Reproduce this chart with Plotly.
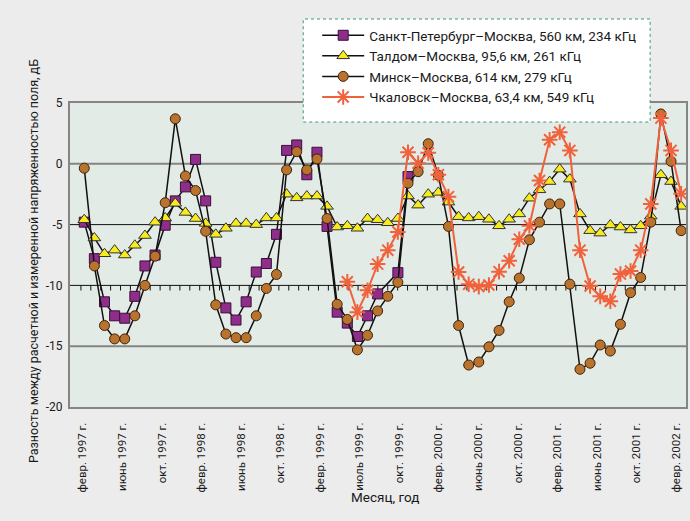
import plotly.graph_objects as go

# ---------------- data ----------------
tick_labels = ["февр. 1997 г.", "июнь 1997 г.", "окт. 1997 г.", "февр. 1998 г.",
               "июнь 1998 г.", "окт. 1998 г.", "февр. 1999 г.", "июль 1999 г.",
               "окт. 1999 г.", "февр. 2000 г.", "июнь 2000 г.", "окт. 2000 г.",
               "февр. 2001 г.", "июнь 2001 г.", "окт. 2001 г.", "февр. 2002 г."]

spb_values = [-4.8, -7.8, -11.35, -12.5, -12.7, -10.9, -8.4, -7.5, -5.05, -3.05,
              -1.9, 0.36, -3.05, -8.1, -11.85, -12.85, -11.35, -8.9, -8.2, -5.8,
              1.1, 1.55, -0.9, 0.95, -5.15, -12.2, -13.1, -14.2, -12.5, -10.7,
              None, -8.95, -1.05]

taldom_values = [-4.6, -6.1, -7.4, -7.1, -7.5, -6.7, -5.9, -4.8, -4.45, -3.25,
                 -4.0, -4.5, -4.9, -5.8, -5.3, -4.9, -4.9, -5.0, -4.45, -4.45,
                 -2.5, -2.8, -2.65, -2.65, -3.5, -5.2, -5.1, -5.3, -4.5, -4.6,
                 -4.85, -4.5, -2.65, -3.4, -2.5, -2.35, -3.15, -4.35, -4.45, -4.35,
                 -4.56, -5.1, -4.56, -4.12, -2.83, -2.14, -1.46, -0.44, -1.26, -4.12,
                 -5.5, -5.7, -5.03, -5.2, -5.44, -5.1, -4.3, -0.9, -1.46, -3.5]

minsk_values = [-0.36, -8.4, -13.3, -14.4, -14.4, -12.5, -10.0, -7.6, -3.2, 3.7,
                -1.0, -2.2, -5.55, -11.6, -14.0, -14.3, -14.3, -12.5, -10.25, -9.1,
                -0.5, 1.0, -0.5, 0.4, -4.5, -11.55, -12.8, -15.3, -14.1, -12.1,
                -10.9, -9.75, -1.6, -0.65, 1.65, -0.95, -5.15, -13.3, -16.55, -16.3,
                -15.05, -13.7, -11.35, -9.4, -6.25, -4.8, -3.3, -3.3, -9.9, -16.9,
                -16.4, -14.9, -15.4, -13.2, -10.6, -9.35, -4.8, 4.1, 0.2, -5.5]

chkal_start = 26
chkal_values = [-9.7, -12.2, -10.4, -8.25, -7.1, -5.6, 0.95, 0.05, 0.9, -0.9,
                -2.7, -8.9, -9.9, -10.1, -9.97, -8.87, -7.97, -6.2, -5.1, -1.37,
                1.98, 2.6, 1.1, -7.1, -10.05, -10.9, -11.3, -9.07, -8.82, -7.1,
                -3.3, 3.76, 1.1, -2.47]

names = ["Санкт-Петербург–Москва, 560 км, 234 кГц",
         "Талдом–Москва, 95,6 км, 261 кГц",
         "Минск–Москва, 614 км, 279 кГц",
         "Чкаловск–Москва, 63,4 км, 549 кГц"]

y_ticks = [5, 0, -5, -10, -15, -20]

# ---------------- figure ----------------
FONT = "Roboto, Liberation Sans, sans-serif"
GRAY = "#858585"
BG = "#ececec"

fig = go.Figure()

fig.add_trace(go.Scatter(
    x=list(range(len(spb_values))), y=spb_values, name=names[0], mode="lines+markers",
    connectgaps=True, legendgroup="a",
    line=dict(color="#111111", width=1.5),
    marker=dict(symbol="square", size=10, color="#8e2d8a", line=dict(color="#3a1038", width=1))))

fig.add_trace(go.Scatter(
    x=list(range(len(taldom_values))), y=taldom_values, name=names[1], mode="lines+markers",
    legendgroup="b",
    line=dict(color="#111111", width=1.5),
    marker=dict(symbol="triangle-up", size=11, color="#f7ea1e", line=dict(color="#333333", width=1))))

fig.add_trace(go.Scatter(
    x=list(range(len(minsk_values))), y=minsk_values, name=names[2], mode="lines+markers",
    legendgroup="c",
    line=dict(color="#111111", width=1.5),
    marker=dict(symbol="circle", size=10, color="#b8732f", line=dict(color="#3f2208", width=1))))

fig.add_trace(go.Scatter(
    x=list(range(chkal_start, chkal_start + len(chkal_values))), y=chkal_values,
    name=names[3], mode="lines+markers", legendgroup="d",
    line=dict(color="#f0623c", width=2),
    marker=dict(symbol="asterisk-open", size=13, color="#f0623c", line=dict(color="#f0623c", width=2))))

tick_pos = [k * 3.911 - 0.16 for k in range(len(tick_labels))]

shapes = []
for yv, col, w in [(0, GRAY, 2), (-15, GRAY, 2), (-5, "#111111", 1), (-10, "#111111", 1)]:
    shapes.append(dict(type="line", xref="paper", yref="y", x0=0, x1=1, y0=yv, y1=yv,
                       line=dict(color=col, width=w), layer="below"))
# small tick marks along the -10 line
for k in range(61):
    xv = -0.33 + k * (58.7 / 60)
    shapes.append(dict(type="line", xref="x", yref="y", x0=xv, x1=xv, y0=-10, y1=-10.42,
                       line=dict(color="#111111", width=1), layer="below"))
# legend box with dotted border
shapes.append(dict(type="rect", xref="paper", yref="paper",
                   x0=(304 - 70) / 618, x1=(652 - 70) / 618,
                   y0=(407 - 122) / 304, y1=(407 - 19) / 304,
                   fillcolor="white", line=dict(color="#3c9a78", width=1, dash="dot"),
                   layer="above"))

fig.update_layout(
    width=690, height=521,
    margin=dict(l=70, r=2, t=103, b=114),
    paper_bgcolor=BG,
    plot_bgcolor="#e3ebe6",
    font=dict(family=FONT, color="#1a1a1a"),
    showlegend=True,
    legend=dict(x=(318 - 70) / 618, y=(407 - 20) / 304, xanchor="left", yanchor="top",
                bgcolor="rgba(0,0,0,0)", borderwidth=0, itemwidth=42, tracegroupgap=2,
                font=dict(family=FONT, size=13.5, color="#1a1a1a"), traceorder="normal"),
    shapes=shapes,
    annotations=[
        dict(text="Месяц, год", xref="paper", yref="paper", x=(386 - 70) / 618,
             y=(407 - 497) / 304, showarrow=False, xanchor="center", yanchor="middle",
             font=dict(family=FONT, size=13.5, color="#1a1a1a")),
        dict(text="Разность между расчетной и измеренной напряженностью поля, дБ",
             xref="paper", yref="paper", x=(33 - 70) / 618, y=(407 - 261) / 304,
             showarrow=False, textangle=-90, xanchor="center", yanchor="middle",
             font=dict(family=FONT, size=12.5, color="#1a1a1a")),
    ],
)

fig.update_xaxes(
    range=[-1.41, 59.48], showgrid=False, zeroline=False,
    tickmode="array", tickvals=tick_pos, ticktext=tick_labels, tickangle=-90,
    tickfont=dict(family=FONT, size=11.5, color="#1a1a1a"),
    ticks="", ticklabelstandoff=9,
    showline=True, linecolor=GRAY, linewidth=2, mirror=True)

fig.update_yaxes(
    range=[-20, 5], showgrid=False, zeroline=False,
    tickmode="array", tickvals=y_ticks, ticktext=[str(v) for v in y_ticks],
    tickfont=dict(family=FONT, size=12, color="#1a1a1a"),
    ticks="", ticklabelstandoff=3,
    showline=True, linecolor=GRAY, linewidth=2, mirror=True)

fig.write_html(
    "out.html",
    config={"displayModeBar": False},
    post_script="document.body.style.margin='0';document.body.style.background='" + BG + "';"
                "document.documentElement.style.background='" + BG + "';"
                "document.body.style.overflow='hidden';")
